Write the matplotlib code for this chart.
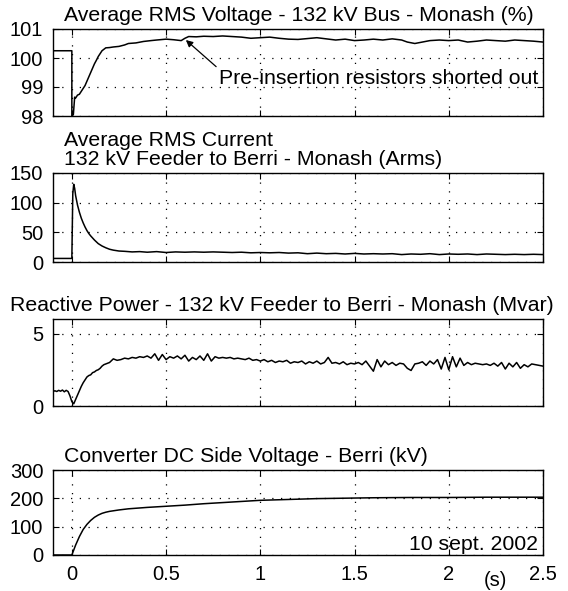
import numpy as np
import matplotlib.pyplot as plt

plt.rcParams['font.family'] = ['Liberation Sans', 'DejaVu Sans']

# ---- data ----
# Average RMS voltage, 132 kV bus Monash (%)
v_t = [-0.1, 0.0, 0.0, 0.008, 0.015, 0.02, 0.03, 0.04, 0.05, 0.06, 0.07, 0.08,
       0.09, 0.10, 0.11, 0.12, 0.13, 0.14, 0.15, 0.16, 0.17, 0.18, 0.20, 0.22,
       0.25, 0.28, 0.30, 0.34, 0.38, 0.42, 0.45, 0.50, 0.54, 0.58, 0.60, 0.62,
       0.66, 0.70, 0.75, 0.80, 0.85, 0.90, 0.95, 1.00, 1.05, 1.10, 1.15, 1.20,
       1.25, 1.30, 1.35, 1.40, 1.45, 1.50, 1.55, 1.60, 1.65, 1.70, 1.75, 1.78,
       1.82, 1.86, 1.90, 1.95, 2.00, 2.05, 2.10, 2.15, 2.20, 2.25, 2.30, 2.35,
       2.40, 2.45, 2.50]
v_val = [100.25, 100.25, 98.0, 98.05, 98.65, 98.62, 98.72, 98.75, 98.85, 98.95,
         99.05, 99.2, 99.35, 99.5, 99.65, 99.8, 99.92, 100.05, 100.15, 100.25,
         100.3, 100.35, 100.36, 100.38, 100.4, 100.45, 100.5, 100.52, 100.57,
         100.6, 100.62, 100.65, 100.63, 100.6, 100.68, 100.74, 100.73, 100.75,
         100.74, 100.76, 100.74, 100.72, 100.68, 100.7, 100.72, 100.68, 100.65,
         100.64, 100.67, 100.7, 100.66, 100.62, 100.65, 100.6, 100.62, 100.65,
         100.62, 100.66, 100.62, 100.55, 100.5, 100.55, 100.6, 100.62, 100.6,
         100.62, 100.55, 100.58, 100.62, 100.6, 100.58, 100.62, 100.6, 100.58,
         100.55]

# Average RMS current, 132 kV feeder Berri - Monash (Arms)
i_t = [-0.1, 0.0, 0.0, 0.005, 0.01, 0.015, 0.02, 0.03, 0.04, 0.05, 0.06, 0.07,
       0.08, 0.09, 0.10, 0.12, 0.14, 0.16, 0.18, 0.20, 0.22, 0.25, 0.28, 0.32,
       0.36, 0.40, 0.45, 0.50, 0.55, 0.60, 0.65, 0.70, 0.75, 0.80, 0.85, 0.90,
       0.95, 1.00, 1.05, 1.10, 1.15, 1.20, 1.25, 1.30, 1.35, 1.40, 1.45, 1.50,
       1.55, 1.60, 1.65, 1.70, 1.75, 1.80, 1.85, 1.90, 1.95, 2.00, 2.05, 2.10,
       2.15, 2.20, 2.25, 2.30, 2.35, 2.40, 2.45, 2.50]
i_val = [6, 6, 6, 115, 131, 124, 112, 96, 84, 74, 66, 59,
         53, 48, 44, 37, 31, 27, 24, 21.5, 20, 18.5, 18, 17, 17.5, 16.5, 17.5,
         16, 17, 16.5, 17, 16.5, 17, 16.5, 16, 16.5, 15.5, 16, 15.5, 16, 15,
         15.5, 14, 15, 14, 14.5, 13.5, 14.5, 13.5, 14, 13.5, 14, 12.5, 13.5, 13,
         14, 12.5, 13.5, 13, 13.5, 12.5, 13.5, 13, 12.5, 13, 12.5, 13, 12.5]

# Reactive power, 132 kV feeder Berri - Monash (Mvar)
q_t = [-0.1, -0.09, -0.08, -0.07, -0.06, -0.05, -0.04, -0.03, -0.02, -0.01,
       0.0, 0.01, 0.02, 0.03, 0.04, 0.05, 0.06, 0.07, 0.08, 0.09, 0.10, 0.11,
       0.12, 0.13, 0.14, 0.15, 0.16, 0.17, 0.18]
q_t += [round(0.20 + 0.02 * k, 2) for k in range(116)]
q_val = [1.0, 1.05, 1.0, 1.08, 1.02, 1.1, 0.98, 1.08, 1.0, 0.7,
         0.3, 0.15, 0.45, 0.75, 1.05, 1.35, 1.6, 1.8, 2.0, 2.1, 2.15, 2.3,
         2.35, 2.45, 2.5, 2.6, 2.75, 2.85, 2.9,
         # 0.20 - 0.58
         3.0, 3.25, 3.15, 3.2, 3.3, 3.25, 3.35, 3.3, 3.4, 3.35, 3.45, 3.3,
         3.6, 3.15, 3.55, 3.2, 3.4, 3.3, 3.45, 3.25,
         # 0.60 - 0.98
         3.5, 3.1, 3.35, 3.2, 3.45, 3.15, 3.6, 3.1, 3.4, 3.3, 3.35, 3.3, 3.35,
         3.25, 3.3, 3.25, 3.2, 3.3, 3.15, 3.2,
         # 1.00 - 1.38
         3.1, 3.2, 3.05, 3.15, 3.0, 3.1, 3.05, 3.15, 2.95, 3.05, 3.0, 3.1,
         2.9, 3.05, 2.95, 3.1, 2.9, 3.0, 3.35, 2.95,
         # 1.40 - 1.78
         3.0, 2.9, 3.05, 2.85, 2.95, 2.9, 3.0, 2.85, 3.1, 2.75, 2.4, 3.2,
         2.7, 3.1, 2.85, 3.0, 2.8, 2.95, 2.9, 2.6,
         # 1.80 - 2.18
         2.45, 2.9, 2.95, 3.05, 2.8, 3.1, 2.9, 3.2, 2.55, 3.35, 2.5, 3.4,
         2.7, 3.3, 2.8, 3.0, 2.85, 2.95, 2.9, 2.85,
         # 2.20 - 2.50
         2.9, 2.8, 2.95, 2.75, 3.0, 2.55, 2.95, 2.7, 3.0, 2.6, 2.85, 2.7,
         2.9, 2.85, 2.8, 2.75]

# Converter DC side voltage, Berri (kV)
u_t = [-0.1, 0.0, 0.02, 0.04, 0.06, 0.08, 0.10, 0.12, 0.14, 0.16, 0.18, 0.20,
       0.25, 0.30, 0.40, 0.50, 0.60, 0.70, 0.80, 0.90, 1.00, 1.10, 1.20, 1.30,
       1.40, 1.50, 1.60, 1.80, 2.00, 2.20, 2.50]
u_val = [0, 0, 35, 65, 90, 108, 122, 133, 141, 147, 151, 154,
         159, 163, 168, 172, 176, 181, 185, 189, 193, 195, 197, 199,
         200, 201, 202, 203, 203, 204, 204]

x_ticks = [0, 0.5, 1, 1.5, 2, 2.5]
x_tick_labels = ['0', '0.5', '1', '1.5', '2', '2.5']

panels = [
    (v_t, v_val, (98, 101), [98, 99, 100, 101], ['98', '99', '100', '101'],
     'Average RMS Voltage - 132 kV Bus - Monash (%)'),
    (i_t, i_val, (0, 150), [0, 50, 100, 150], ['0', '50', '100', '150'],
     'Average RMS Current\n132 kV Feeder to Berri - Monash (Arms)'),
    (q_t, q_val, (0, 6), [0, 5], ['0', '5'],
     'Reactive Power - 132 kV Feeder to Berri - Monash (Mvar)'),
    (u_t, u_val, (0, 300), [0, 100, 200, 300], ['0', '100', '200', '300'],
     'Converter DC Side Voltage - Berri (kV)'),
]

fig = plt.figure(figsize=(5.68, 5.91), dpi=100)
W, H = 568.0, 591.0
left, right = 53, 543
boxes = [(29, 116), (173, 262), (319, 406), (470, 555)]  # top, bottom in px
title_x = [64, 64, 10, 64]  # left edge of each title, px

fs = 14.5   # tick labels
tfs = 15.3  # titles and notes
for k, ((t, y, ylim, yt, ytl, title), (top, bot)) in enumerate(zip(panels, boxes)):
    ax = fig.add_axes([left / W, 1 - bot / H, (right - left) / W, (bot - top) / H])
    ax.plot(t, y, color='black', lw=1.1)
    ax.set_xlim(-0.1, 2.5)
    ax.set_ylim(*ylim)
    ax.set_xticks(x_ticks)
    ax.set_yticks(yt)
    ax.set_yticklabels(ytl, fontsize=fs)
    if k == 3:
        ax.set_xticklabels(x_tick_labels, fontsize=fs)
    else:
        ax.set_xticklabels([])
    ax.tick_params(direction='in', top=True, right=True, length=4, width=0.8)
    ax.tick_params(axis='y', pad=7)
    ax.tick_params(axis='x', pad=7)
    ax.grid(True, color='black', linestyle=(0, (1, 6)), linewidth=0.9)
    for s in ax.spines.values():
        s.set_linewidth(1.0)
    ax.annotate(title, xy=((title_x[k] - left) / (right - left), 1),
                xycoords='axes fraction', xytext=(0, 6),
                textcoords='offset points', ha='left', va='baseline',
                fontsize=tfs, linespacing=0.95)
    if k == 0:
        ax.annotate('Pre-insertion resistors shorted out', xy=(0.605, 100.62),
                    xytext=(2.475, 99.1), ha='right', va='baseline',
                    fontsize=tfs,
                    arrowprops=dict(arrowstyle='-|>', color='black', lw=0.9,
                                    shrinkA=0, shrinkB=0, mutation_scale=10,
                                    relpos=(0.0, 1.0)))
    if k == 3:
        ax.text(2.475, 16, '10 sept. 2002', ha='right', va='baseline',
                fontsize=tfs)
        ax.annotate('(s)', xy=(2.25, 0), xycoords=('data', 'axes fraction'),
                    xytext=(0, -22), textcoords='offset points',
                    ha='center', va='baseline', fontsize=fs)

fig.savefig('out.png', dpi=100)
